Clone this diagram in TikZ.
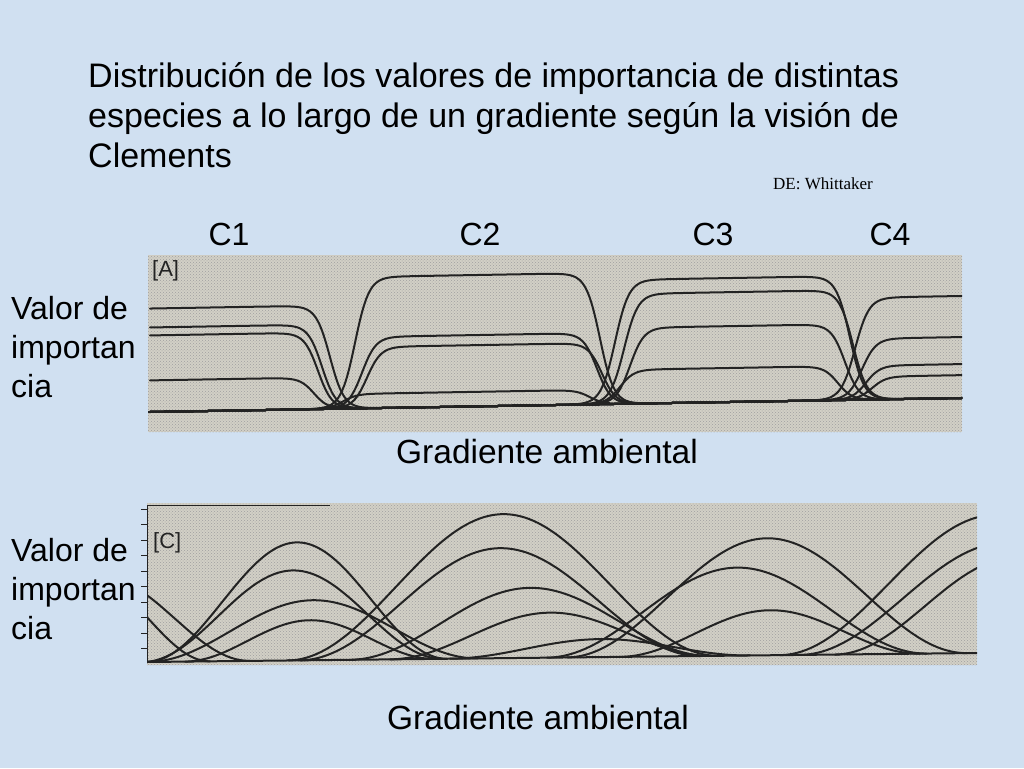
\documentclass[tikz,border=0pt]{standalone}
\usepackage{fontspec}
\setmainfont{Liberation Sans}
\newfontfamily\serifw{Liberation Serif}
\usetikzlibrary{patterns}
\definecolor{bgblue}{RGB}{208,224,241}
\definecolor{panelgray}{RGB}{210,208,198}
\definecolor{ink}{RGB}{35,35,35}
\tikzset{
  declare function={
    sig(\u)=1/(1+exp(-max(min(\u,9),-9)));
    baseA(\x)=412-14*(\x-150)/812;
    baseC(\x)=662-9*(\x-147)/830;
  },
  curve/.style={draw=ink, line width=2pt, line join=round, line cap=round},
  title/.style={anchor=base west, font=\fontsize{34}{34}\selectfont, inner sep=0pt},
  valor/.style={anchor=base west, font=\fontsize{32}{32}\selectfont, inner sep=0pt},
  clabel/.style={anchor=base, font=\fontsize{32}{32}\selectfont, inner sep=0pt},
  gradlabel/.style={anchor=base, font=\fontsize{33.5}{33.5}\selectfont, inner sep=0pt},
  panellabel/.style={anchor=north west, inner sep=0pt, font=\fontsize{22}{22}\selectfont, text=ink},
  panel/.style={fill=panelgray},
  tick/.style={draw=ink, line width=0.8pt},
}
\newcommand{\plat}[3]{% x1, x2, level
  \pgfmathsetmacro\pamp{baseA((#1+#2)/2)-#3}
  \draw[curve] plot[domain=150:962, samples=260, smooth] (\x, {baseA(\x)-\pamp*sig((\x-#1)/7)*sig((#2-\x)/7)});
}
\newcommand{\bell}[3]{% centre, half width, amplitude
  \pgfmathsetmacro\bellA{#1-#2}
  \pgfmathsetmacro\bellB{#1+#2}
  \draw[curve] plot[domain=\bellA:\bellB, samples=80, smooth] (\x, {baseC(\x)-#3*(0.5+0.5*cos((\x-#1)/#2*180))});
}
\begin{document}
\begin{tikzpicture}[x=1pt, y=-1pt]
\fill[bgblue] (0,0) rectangle (1024,768);
\useasboundingbox (0,0) rectangle (1024,768);

% title
\node[title] (t1) at (88,87) {Distribución de los valores de importancia de distintas};
\node[title] (t2) at (88,127) {especies a lo largo de un gradiente según la visión de};
\node[title] (t3) at (88,167) {Clements};
\node[anchor=base east, inner sep=0pt, font=\serifw\fontsize{17}{17}\selectfont] (src) at (873,189) {DE: Whittaker};

% community labels
\node[clabel] (c1) at (229,245) {C1};
\node[clabel] (c2) at (480,245) {C2};
\node[clabel] (c3) at (713,245) {C3};
\node[clabel] (c4) at (890,245) {C4};

% panel A
\fill[panel] (148,255) rectangle (962,432);
\fill[pattern=crosshatch dots, pattern color=gray!75] (148,255) rectangle (962,432);
\node[panellabel] (la) at (152,260) {[A]};
\begin{scope}
\clip (148,255) rectangle (962,432);
\draw[curve] (148,{baseA(148)}) -- (962,{baseA(962)});
% C1
\plat{-200}{330}{310}
\plat{-200}{322}{329}
\plat{-200}{318}{337}
\plat{-200}{314}{382}
% C2
\plat{355}{600}{275}
\plat{362}{597}{335}
\plat{367}{602}{345}
\plat{343}{590}{392}
% C3
\plat{615}{850}{278}
\plat{624}{853}{292}
\plat{630}{845}{326}
\plat{620}{838}{368}
% C4
\plat{855}{1300}{294}
\plat{862}{1300}{335}
\plat{866}{1300}{362}
\plat{872}{1300}{373}
\end{scope}

% panel C
\fill[panel] (147,503) rectangle (977,665);
\fill[pattern=crosshatch dots, pattern color=gray!75] (147,503) rectangle (977,665);
\node[panellabel] (lc) at (153,532) {[C]};
\draw[tick] (147,505) -- (330,505);
\draw[tick] (147,505) -- (147,663);
\foreach \k in {0,...,9} {
  \draw[tick] (141,{509+15.5*\k}) -- (148,{509+15.5*\k});
}
\begin{scope}
\clip (147,503) rectangle (977,665);
\draw[curve] (147,{baseC(147)}) -- (977,{baseC(977)});
% left, from outside
\bell{100}{150}{86}
\bell{90}{120}{83}
% C1
\bell{297}{150}{118}
\bell{293}{150}{90}
\bell{313}{165}{60}
\bell{310}{125}{40}
% C2
\bell{503}{215}{144}
\bell{500}{200}{110}
\bell{530}{180}{70}
\bell{550}{160}{45}
\bell{600}{150}{18}
% C3
\bell{767}{200}{117}
\bell{737}{190}{88}
\bell{770}{150}{45}
% C4
\bell{995}{215}{138}
\bell{1005}{205}{110}
\bell{1015}{180}{95}
\end{scope}

% axis labels
\node[valor] (v1) at (11,319) {Valor de};
\node[valor] (v2) at (11,358) {importan};
\node[valor] (v3) at (11,397) {cia};
\node[gradlabel] (g1) at (547,463) {Gradiente ambiental};
\node[valor] (w1) at (11,561) {Valor de};
\node[valor] (w2) at (11,600) {importan};
\node[valor] (w3) at (11,639) {cia};
\node[gradlabel] (g2) at (538,729) {Gradiente ambiental};
\end{tikzpicture}
\end{document}
